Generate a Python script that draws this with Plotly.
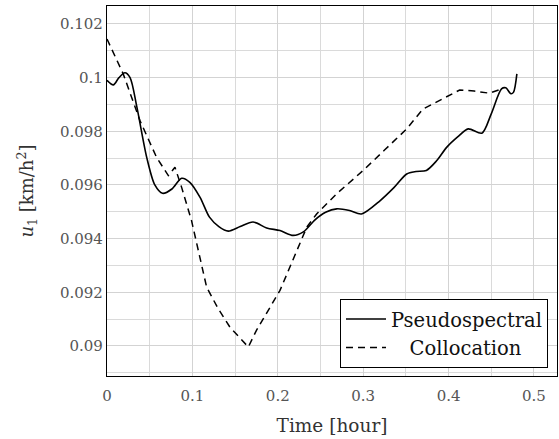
import plotly.graph_objects as go

# Pseudospectral (solid)
t_ps = [0.0, 0.0074, 0.014, 0.021, 0.027, 0.035, 0.0465, 0.056, 0.065, 0.076, 0.0874, 0.097,
        0.109, 0.12, 0.131, 0.142, 0.156, 0.171, 0.187, 0.2026, 0.218, 0.230, 0.2436, 0.256,
        0.269, 0.284, 0.298, 0.32, 0.336, 0.351, 0.362, 0.374, 0.386, 0.398, 0.411, 0.423,
        0.439, 0.45, 0.462, 0.467, 0.473, 0.476, 0.48]
v_ps = [0.0999, 0.09973, 0.10, 0.10018, 0.1000, 0.0989, 0.09703, 0.0960, 0.09569, 0.09585,
        0.09625, 0.0961, 0.09554, 0.0948, 0.09445, 0.09428, 0.09445, 0.09462, 0.0944, 0.0943,
        0.09412, 0.09425, 0.0947, 0.09498, 0.09511, 0.09505, 0.09492, 0.09542, 0.0959, 0.09641,
        0.0965, 0.09654, 0.0969, 0.09741, 0.0978, 0.09809, 0.09793, 0.09865, 0.09958, 0.09962,
        0.0994, 0.09945, 0.10014]

# Collocation (dashed)
t_co = [0.0, 0.019, 0.0386, 0.058, 0.0718, 0.0796, 0.0874, 0.099, 0.1167, 0.130, 0.144,
        0.1655, 0.175, 0.2026, 0.234, 0.2455, 0.27, 0.30, 0.325, 0.351, 0.37, 0.386, 0.4016,
        0.413, 0.43, 0.448, 0.462]
v_co = [0.10144, 0.10014, 0.0984, 0.09703, 0.09635, 0.09666, 0.09591, 0.09467, 0.09219,
        0.0914, 0.0907, 0.08996, 0.09058, 0.09207, 0.09443, 0.09492, 0.0957, 0.09654, 0.0973,
        0.09809, 0.09883, 0.0991, 0.09936, 0.09954, 0.0995, 0.09942, 0.09958]

x_ticks = [0, 0.1, 0.2, 0.3, 0.4, 0.5]
x_labels = ["0", "0.1", "0.2", "0.3", "0.4", "0.5"]
y_ticks = [0.09, 0.092, 0.094, 0.096, 0.098, 0.1, 0.102]
y_labels = ["0.09", "0.092", "0.094", "0.096", "0.098", "0.1", "0.102"]

FONT = "DejaVu Serif"

fig = go.Figure()
fig.add_trace(go.Scatter(x=t_ps, y=v_ps, mode="lines", name="Pseudospectral",
                         line=dict(color="black", width=1.6, shape="spline", smoothing=0.8)))
fig.add_trace(go.Scatter(x=t_co, y=v_co, mode="lines", name="   Collocation",
                         line=dict(color="black", width=1.5, dash="7px,5px")))

fig.update_layout(
    width=559, height=439,
    margin=dict(l=107, r=2, t=6, b=63),
    paper_bgcolor="white", plot_bgcolor="white",
    font=dict(family=FONT, size=15, color="#444"),
    showlegend=True,
    legend=dict(x=0.98, y=0.022, xanchor="right", yanchor="bottom",
                bordercolor="black", borderwidth=1, bgcolor="white",
                font=dict(family=FONT, size=19.5, color="#111"),
                tracegroupgap=0, itemwidth=40),
    xaxis=dict(range=[0, 0.527], tickvals=x_ticks, ticktext=x_labels,
               showgrid=True, gridcolor="#d3d3d3", gridwidth=1,
               minor=dict(dtick=0.05, tick0=0, showgrid=True, gridcolor="#dadada", gridwidth=1),
               showline=True, linecolor="black", linewidth=1.2, mirror=True,
               ticks="", zeroline=False, ticklabelstandoff=6,
               title=dict(text="Time [hour]", font=dict(family=FONT, size=18.5, color="#333"), standoff=14),
               tickfont=dict(family=FONT, size=15, color="#555")),
    yaxis=dict(range=[0.08888, 0.10267], tickvals=y_ticks, ticktext=y_labels,
               showgrid=True, gridcolor="#d3d3d3", gridwidth=1,
               minor=dict(dtick=0.001, tick0=0.09, showgrid=True, gridcolor="#dadada", gridwidth=1),
               showline=True, linecolor="black", linewidth=1.2, mirror=True,
               ticks="", zeroline=False,
               title=dict(text="<i>u</i><sub>1</sub> [km/h<sup>2</sup>]",
                          font=dict(family=FONT, size=18, color="#333"), standoff=21),
               tickfont=dict(family=FONT, size=15, color="#555")),
)

fig.write_html("out.html")
